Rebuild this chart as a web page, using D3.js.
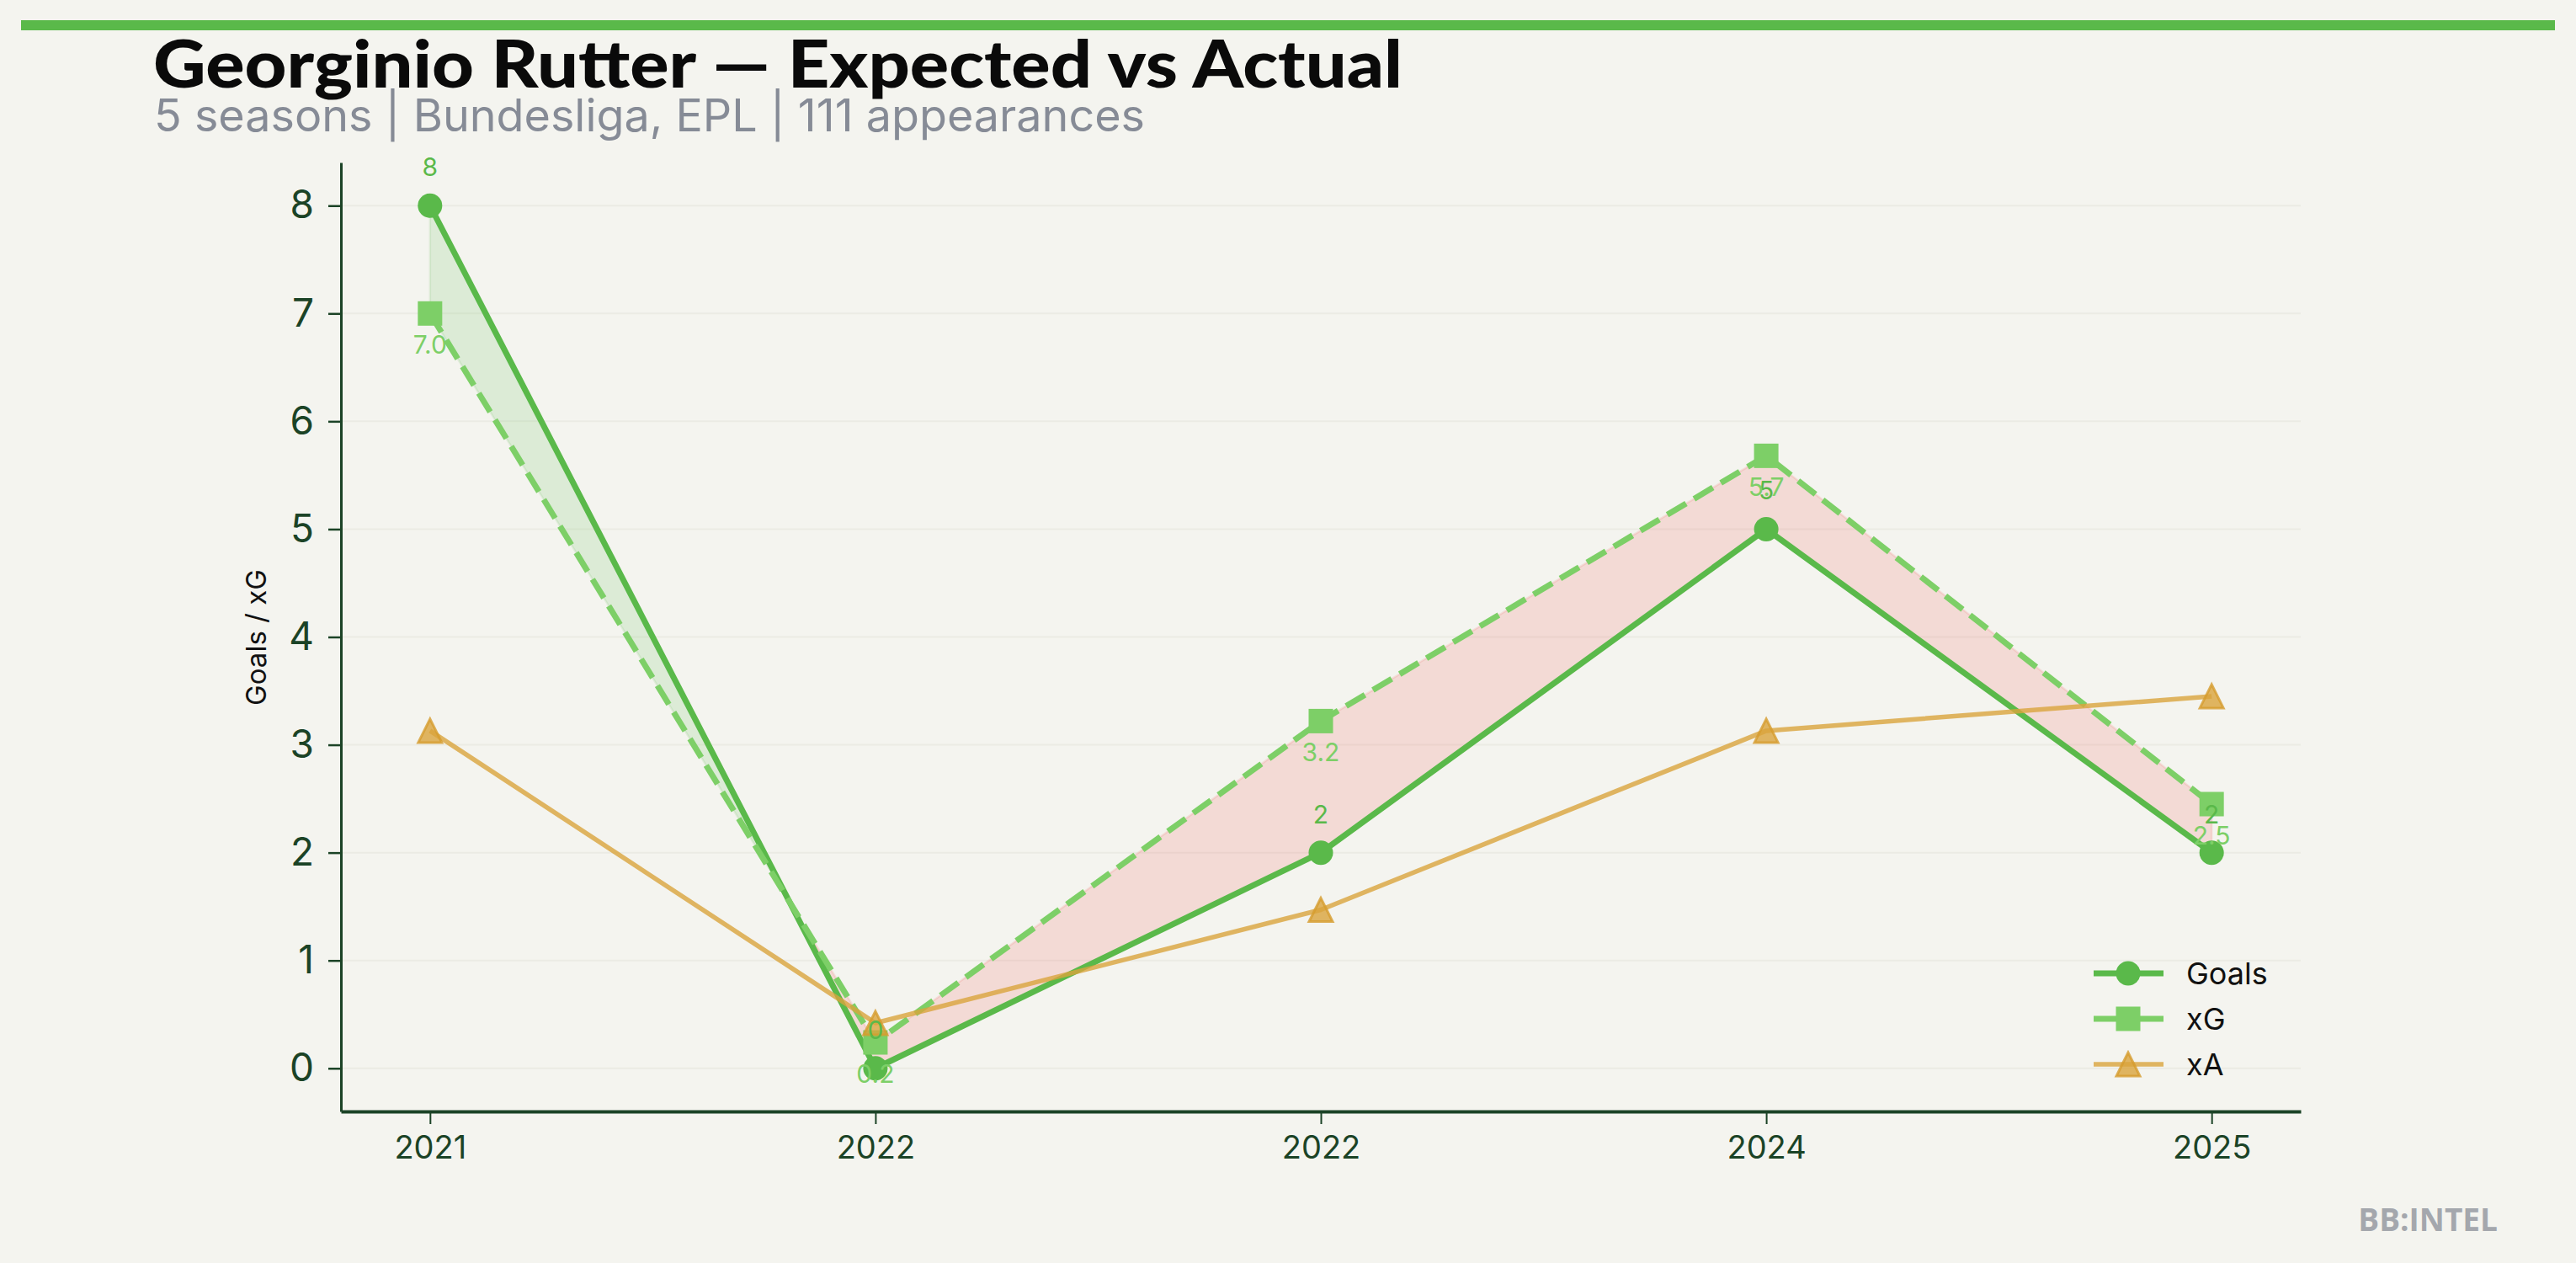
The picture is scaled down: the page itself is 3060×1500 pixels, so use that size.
<!DOCTYPE html>
<html>
<head>
<meta charset="utf-8">
<script src="https://cdn.jsdelivr.net/npm/d3@7"></script>
<style>
  html, body { margin: 0; padding: 0; background: #f4f4ef; }
  svg { display: block; }
</style>
</head>
<body>
<svg id="chart" width="3060" height="1500"></svg>
<script>
// ---- data ----
const seasons = ["2021", "2022", "2022", "2024", "2025"];
const goals = [8, 0, 2, 5, 2];
const xG = [7.0, 0.24, 3.22, 5.68, 2.45];
const xA = [3.13, 0.42, 1.47, 3.13, 3.45];
const yTicks = [0, 1, 2, 3, 4, 5, 6, 7, 8];
const seriesNames = ["Goals", "xG", "xA"];
const titleText = "Georginio Rutter — Expected vs Actual";
const subtitleText = "5 seasons | Bundesliga, EPL | 111 appearances";
const brandText = "BB:INTEL";

// ---- style ----
const BG = "#f4f4ef";
const C_GOALS = "#5ab94a";
const C_XG = "#7dcf67";
const C_XA = "#d9a43c";
const AXIS = "#1b4326";

const svg = d3.select("#chart");
svg.append("rect").attr("width", 3060).attr("height", 1500).attr("fill", BG);

// top bar
svg.append("rect").attr("x", 25).attr("y", 24).attr("width", 3010).attr("height", 12).attr("fill", C_GOALS);

// title & subtitle
svg.append("text").attr("x", 182).attr("y", 104)
  .attr("font-family", "Lato, 'Noto Sans', sans-serif").attr("font-weight", 900)
  .attr("font-size", 78).attr("fill", "#0a0a0a")
  .attr("textLength", 1484).attr("lengthAdjust", "spacingAndGlyphs")
  .text(titleText);
svg.append("text").attr("x", 183).attr("y", 156)
  .attr("font-family", "Inter, sans-serif").attr("font-weight", 400)
  .attr("font-size", 53).attr("fill", "#868b96")
  .attr("textLength", 1177).attr("lengthAdjust", "spacingAndGlyphs")
  .text(subtitleText);

// scales
const x = d3.scaleLinear().domain([-0.2, 4.2]).range([405, 2733]);
const y = d3.scaleLinear().domain([-0.4, 8.4]).range([1320, 193]);
const idx = d3.range(seasons.length);

// grid
svg.append("g").selectAll("line").data(yTicks).join("line")
  .attr("x1", 405).attr("x2", 2733)
  .attr("y1", d => y(d)).attr("y2", d => y(d))
  .attr("stroke", "#ebebe4").attr("stroke-width", 2);

// fill between goals & xG with interpolated crossings
const pts = [];
idx.forEach(i => {
  pts.push({ i: i, g: goals[i], e: xG[i] });
  if (i < idx.length - 1) {
    const d0 = goals[i] - xG[i], d1 = goals[i + 1] - xG[i + 1];
    if (d0 * d1 < 0) {
      const t = d0 / (d0 - d1);
      const v = goals[i] + t * (goals[i + 1] - goals[i]);
      pts.push({ i: i + t, g: v, e: v });
    }
  }
});
const area = d3.area().x(d => x(d.i)).y0(d => y(d.e)).y1(d => y(d.g));
svg.append("path").datum(pts)
  .attr("d", area.defined(d => d.g >= d.e))
  .attr("fill", C_GOALS).attr("fill-opacity", 0.15)
  .attr("stroke", C_GOALS).attr("stroke-opacity", 0.12).attr("stroke-width", 2.5);
svg.append("path").datum(pts)
  .attr("d", area.defined(d => d.g <= d.e))
  .attr("fill", "#f05a58").attr("fill-opacity", 0.17)
  .attr("stroke", "#f05a58").attr("stroke-opacity", 0.14).attr("stroke-width", 2.5);

// axes
const yAxis = d3.axisLeft(y).tickValues(yTicks).tickFormat(d3.format("d")).tickSize(15).tickSizeOuter(0).tickPadding(17);
const gy = svg.append("g").attr("transform", "translate(405,0)").call(yAxis);
gy.select(".domain").attr("stroke", AXIS).attr("stroke-width", 3);
gy.selectAll(".tick line").attr("stroke", AXIS).attr("stroke-width", 2.5);
gy.selectAll(".tick text").attr("fill", AXIS).attr("font-family", "Inter, sans-serif").attr("font-size", 46);

const xAxis = d3.axisBottom(x).tickValues(idx).tickFormat(i => seasons[i]).tickSize(15).tickSizeOuter(0).tickPadding(14);
const gx = svg.append("g").attr("transform", "translate(0,1320)").call(xAxis);
gx.select(".domain").attr("stroke", AXIS).attr("stroke-width", 4);
gx.selectAll(".tick line").attr("stroke", AXIS).attr("stroke-width", 2);
gx.selectAll(".tick text").attr("fill", AXIS).attr("font-family", "Inter, sans-serif").attr("font-size", 38);

// y label
svg.append("text").attr("transform", "translate(316,757) rotate(-90)")
  .attr("text-anchor", "middle").attr("font-family", "Inter, sans-serif").attr("font-size", 33)
  .attr("fill", "#111").text("Goals / xG");

// lines
const line = vals => d3.line().x((d, i) => x(i)).y(d => y(d))(vals);
svg.append("path").attr("d", line(goals)).attr("fill", "none")
  .attr("stroke", C_GOALS).attr("stroke-width", 7).attr("stroke-linejoin", "round");
svg.append("path").attr("d", line(xG)).attr("fill", "none")
  .attr("stroke", C_XG).attr("stroke-width", 7).attr("stroke-dasharray", "26,11");
svg.append("path").attr("d", line(xA)).attr("fill", "none")
  .attr("stroke", C_XA).attr("stroke-opacity", 0.8).attr("stroke-width", 5.5).attr("stroke-linejoin", "round");

// markers
const tri = (cx, cy, s) => `M${cx},${cy - s / 2}L${cx - s / 2},${cy + s / 2}L${cx + s / 2},${cy + s / 2}Z`;
svg.append("g").selectAll("circle").data(goals).join("circle")
  .attr("cx", (d, i) => x(i)).attr("cy", d => y(d)).attr("r", 14.5).attr("fill", C_GOALS);
svg.append("g").selectAll("rect").data(xG).join("rect")
  .attr("x", (d, i) => x(i) - 14.5).attr("y", d => y(d) - 14.5)
  .attr("width", 29).attr("height", 29).attr("fill", C_XG);
svg.append("g").selectAll("path").data(xA).join("path")
  .attr("d", (d, i) => tri(x(i), y(d), 28))
  .attr("fill", C_XA).attr("fill-opacity", 0.8)
  .attr("stroke", "#d69c2e").attr("stroke-opacity", 0.8).attr("stroke-width", 3).attr("stroke-linejoin", "miter");

// value labels
svg.append("g").selectAll("text").data(goals).join("text")
  .attr("x", (d, i) => x(i)).attr("y", d => y(d) - 35)
  .attr("text-anchor", "middle").attr("font-family", "Inter, sans-serif").attr("font-size", 30)
  .attr("fill", C_GOALS).text(d => d3.format("d")(d));
svg.append("g").selectAll("text").data(xG).join("text")
  .attr("x", (d, i) => x(i)).attr("y", d => y(d) + 48)
  .attr("text-anchor", "middle").attr("font-family", "Inter, sans-serif").attr("font-size", 30)
  .attr("fill", C_XG).text(d => d3.format(".1f")(d));

// legend
const lg = svg.append("g");
const rows = [1156, 1210, 1264];
const colors = [C_GOALS, C_XG, C_XA];
seriesNames.forEach((name, k) => {
  const ry = rows[k];
  lg.append("line").attr("x1", 2487).attr("x2", 2570).attr("y1", ry).attr("y2", ry)
    .attr("stroke", colors[k]).attr("stroke-width", k === 2 ? 5.5 : 7)
    .attr("stroke-opacity", k === 2 ? 0.8 : 1);
  if (k === 0) lg.append("circle").attr("cx", 2528).attr("cy", ry).attr("r", 14.5).attr("fill", C_GOALS);
  if (k === 1) lg.append("rect").attr("x", 2528 - 14.5).attr("y", ry - 14.5).attr("width", 29).attr("height", 29).attr("fill", C_XG);
  if (k === 2) lg.append("path").attr("d", tri(2528, ry, 28)).attr("fill", C_XA).attr("fill-opacity", 0.8)
    .attr("stroke", "#d69c2e").attr("stroke-opacity", 0.8).attr("stroke-width", 3);
  lg.append("text").attr("x", 2597).attr("y", ry + 13).attr("font-family", "Inter, sans-serif")
    .attr("font-size", 36).attr("fill", "#111").text(name);
});

// brand
svg.append("text").attr("x", 2967).attr("y", 1462).attr("text-anchor", "end")
  .attr("font-family", "'Open Sans', sans-serif").attr("font-weight", 700).attr("font-size", 37)
  .attr("fill", "#a4a7ad").text(brandText);
</script>
</body>
</html>
